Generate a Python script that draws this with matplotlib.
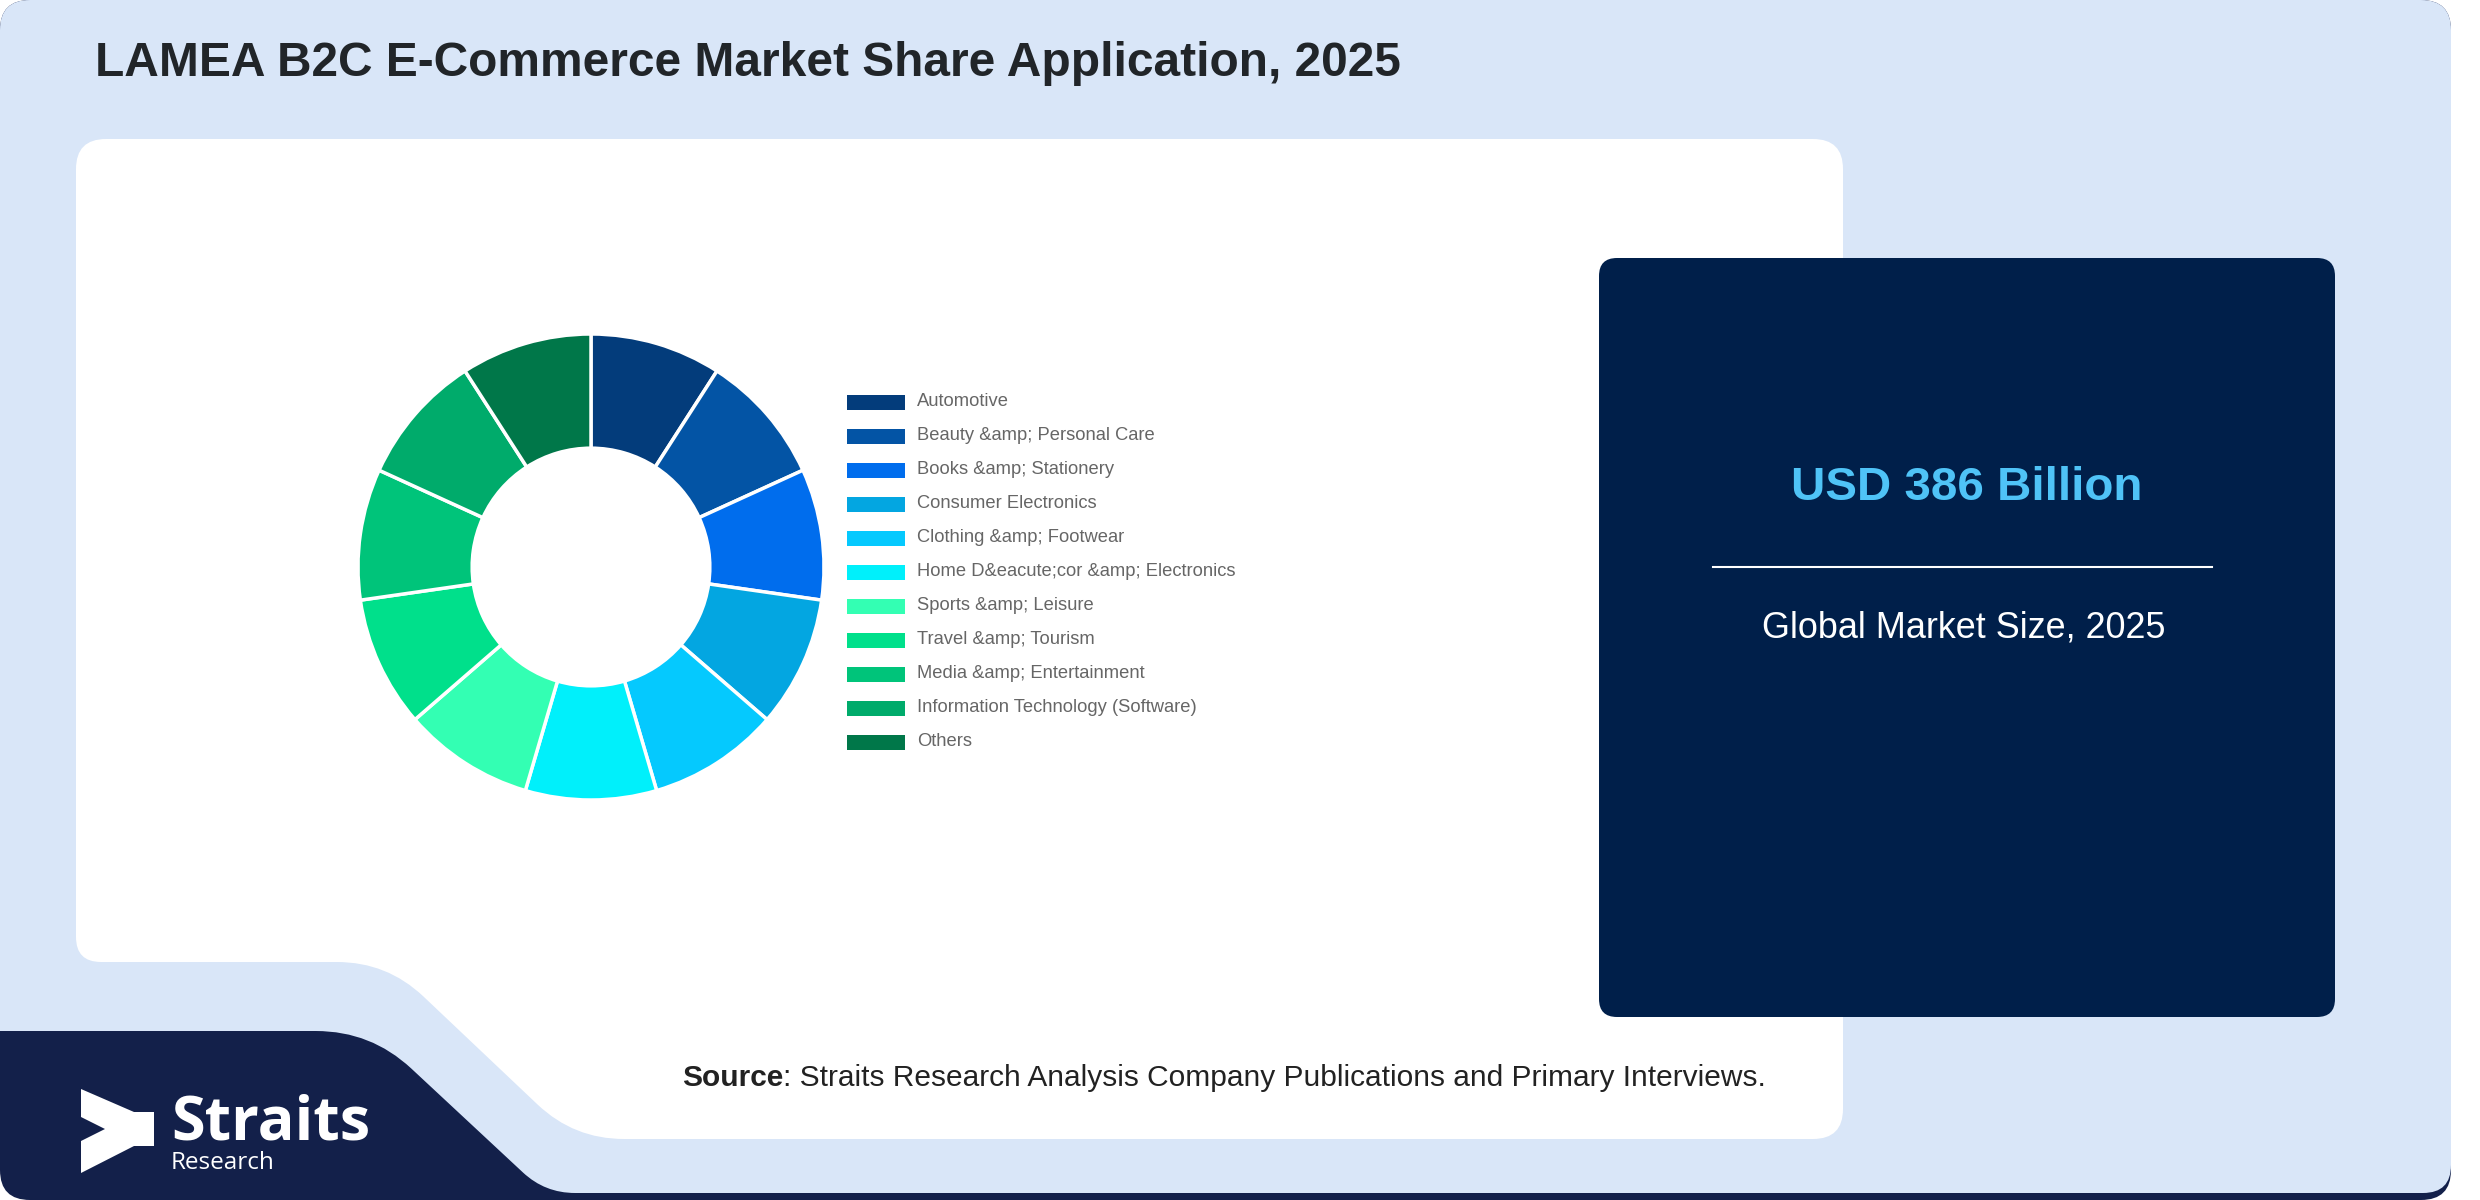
import numpy as np
import matplotlib
matplotlib.use("Agg")
import matplotlib.pyplot as plt
from matplotlib.path import Path
from matplotlib.patches import PathPatch, Rectangle

# ---------------- data ----------------
categories = [
    "Automotive",
    "Beauty &amp; Personal Care",
    "Books &amp; Stationery",
    "Consumer Electronics",
    "Clothing &amp; Footwear",
    "Home D&eacute;cor &amp; Electronics",
    "Sports &amp; Leisure",
    "Travel &amp; Tourism",
    "Media &amp; Entertainment",
    "Information Technology (Software)",
    "Others",
]
shares = [9.09, 9.09, 9.09, 9.09, 9.09, 9.09, 9.09, 9.09, 9.09, 9.09, 9.09]
colors = ["#033c7b", "#0354a5", "#006ded", "#03a6e1", "#05c9fe", "#00f0fb",
          "#33ffb3", "#00e08b", "#00c47a", "#00ab6b", "#007749"]
title = "LAMEA B2C E-Commerce Market Share Application, 2025"
market_value = "USD 386 Billion"
market_label = "Global Market Size, 2025"
source_bold = "Source"
source_rest = ": Straits Research Analysis Company Publications and Primary Interviews."

W, H = 2480, 1200
fig = plt.figure(figsize=(W / 100, H / 100), dpi=100, facecolor="white")
bg = fig.add_axes([0, 0, 1, 1])
bg.set_xlim(0, W)
bg.set_ylim(H, 0)
bg.axis("off")


def rounded_path(verts, radii):
    n = len(verts)
    pts, codes = [], []
    for i in range(n):
        p = np.array(verts[i], float)
        prv = np.array(verts[i - 1], float)
        nxt = np.array(verts[(i + 1) % n], float)
        r = radii[i]
        if r <= 0:
            pts.append(p)
            codes.append(Path.LINETO)
        else:
            d1 = (prv - p) / np.linalg.norm(prv - p)
            d2 = (nxt - p) / np.linalg.norm(nxt - p)
            pts += [p + d1 * r, p, p + d2 * r]
            codes += [Path.LINETO, Path.CURVE3, Path.CURVE3]
    codes[0] = Path.MOVETO
    pts.append(pts[0])
    codes.append(Path.CLOSEPOLY)
    return Path(pts, codes)


def shape(verts, radii, color, z):
    bg.add_patch(PathPatch(rounded_path(verts, radii), facecolor=color,
                           edgecolor="none", zorder=z))


NAVY = "#13204a"
LIGHT = "#d9e6f8"
# navy base (logo area + bottom shadow)
shape([(0, 0), (2451, 0), (2451, 1200), (0, 1200)], [30, 30, 30, 30], NAVY, 1)
# light blue card
shape([(0, 0), (2451, 0), (2451, 1193), (545, 1193), (371, 1031), (0, 1031)],
      [30, 30, 28, 30, 55, 0], LIGHT, 2)
# white chart panel
shape([(76, 139), (1843, 139), (1843, 1139), (574, 1139), (387, 962), (76, 962)],
      [30, 30, 30, 50, 50, 25], "white", 3)
# dark market-size box
shape([(1599, 258), (2335, 258), (2335, 1017), (1599, 1017)],
      [18, 18, 18, 18], "#001f4a", 4)

# logo arrow
shape([(81, 1089), (134, 1112), (154, 1112), (154, 1146), (134, 1146),
       (81, 1173), (81, 1141), (105, 1129), (81, 1117)],
      [0] * 9, "white", 5)
bg.text(171, 1140, "Straits", family="Open Sans", weight="bold", fontsize=44,
        color="white", ha="left", va="baseline", zorder=6)
bg.text(171, 1169, "Research", family="Open Sans", fontsize=17.5,
        color="white", ha="left", va="baseline", zorder=6)

# title
bg.text(95, 63, title, family="Liberation Sans", weight="bold", fontsize=34.5,
        color="#212529", ha="left", va="center", zorder=6)

# market size box texts
bg.text(1967, 488, market_value, family="Liberation Sans", weight="bold",
        fontsize=34.2, color="#4fc3f7", ha="center", va="center", zorder=6)
bg.plot([1713, 2212], [567, 567], color="white", lw=1.5, zorder=6)
bg.text(1964, 628, market_label, family="Liberation Sans", fontsize=25.9,
        color="white", ha="center", va="center", zorder=6)

# source line
t1 = bg.text(682, 1078, source_bold, family="Liberation Sans", weight="bold",
             fontsize=21.5, color="#222222", ha="left", va="center", zorder=6)
fig.canvas.draw()
ext = t1.get_window_extent(renderer=fig.canvas.get_renderer())
bg.text(ext.x1, 1078, source_rest, family="Liberation Sans", fontsize=21.5,
        color="#222222", ha="left", va="center", zorder=6)

# legend
for i, (cat, col) in enumerate(zip(categories, colors)):
    y = 402 + 34 * i
    bg.add_patch(Rectangle((847, y - 7.5), 58, 15, facecolor=col,
                           edgecolor="none", zorder=6))
    bg.text(917, y, cat, family="Liberation Sans", fontsize=13.2,
            color="#666666", ha="left", va="center", zorder=6)

# donut
cx, cy, R, half = 591, 567, 233, 245
pax = fig.add_axes([(cx - half) / W, 1 - (cy + half) / H, 2 * half / W, 2 * half / H])
pax.pie(shares, colors=colors, startangle=90, counterclock=False, radius=1,
        wedgeprops=dict(width=0.49, edgecolor="white", linewidth=2.5))
pax.set_xlim(-half / R, half / R)
pax.set_ylim(-half / R, half / R)
pax.set_aspect("equal")
pax.axis("off")

fig.savefig("out.png", dpi=100, facecolor="white")
